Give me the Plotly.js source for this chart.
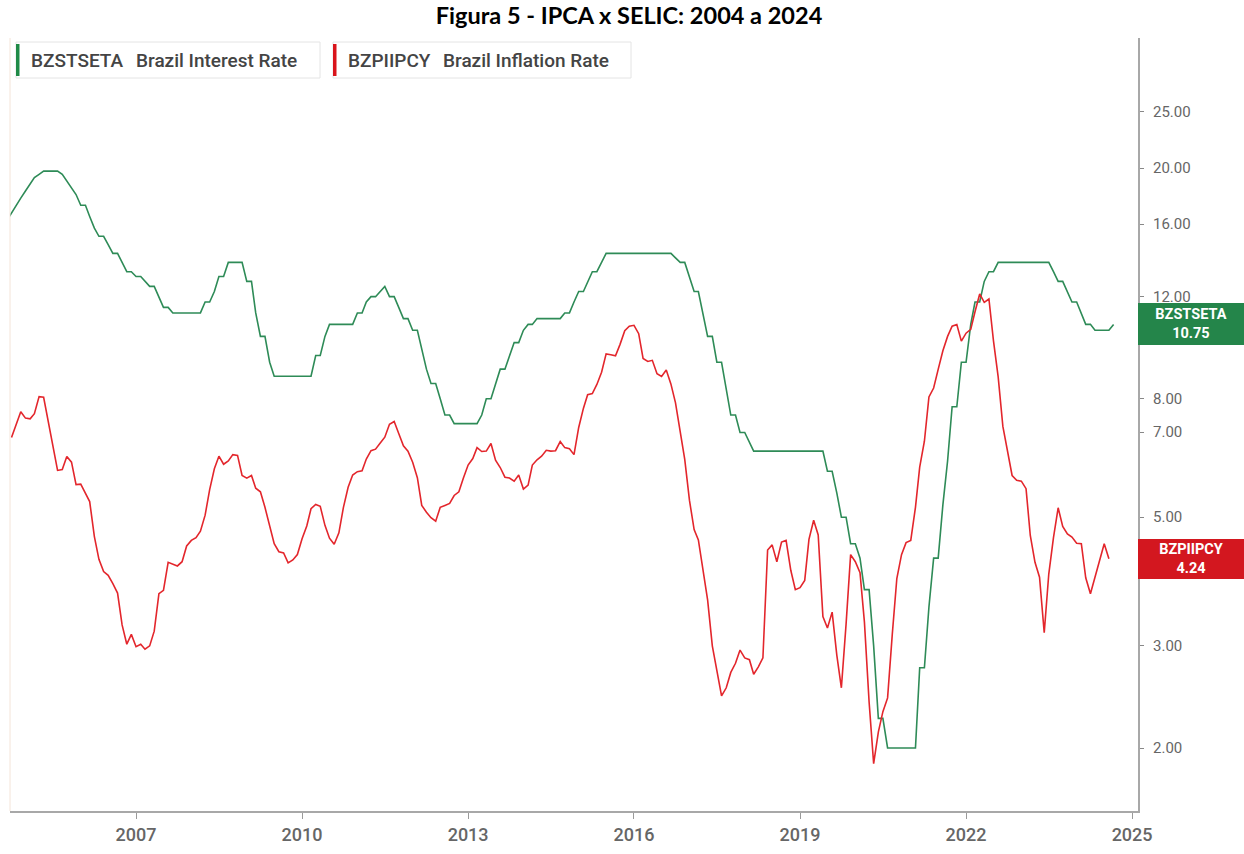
<!DOCTYPE html>
<html><head><meta charset="utf-8">
<script src="https://cdn.plot.ly/plotly-3.0.1.min.js"></script>
<style>html,body{margin:0;padding:0;background:#fff}#chart{width:1244px;height:854px}</style>
</head><body><div id="chart"></div>
<script>
// SELIC target (BZSTSETA), monthly, starting Sep 2004
const selicStart = [2004, 9];
const selicValues = [
  16.25,16.75,17.25,17.75,
  18.25,18.75,19.25,19.50,19.75,19.75,19.75,19.75,19.50,19.00,18.50,18.00,
  17.25,17.25,16.50,15.75,15.25,15.25,14.75,14.25,14.25,13.75,13.25,13.25,
  13.00,13.00,12.75,12.50,12.50,12.00,11.50,11.50,11.25,11.25,11.25,11.25,
  11.25,11.25,11.25,11.75,11.75,12.25,13.00,13.00,13.75,13.75,13.75,13.75,
  12.75,12.75,11.25,10.25,10.25,9.25,8.75,8.75,8.75,8.75,8.75,8.75,
  8.75,8.75,8.75,9.50,9.50,10.25,10.75,10.75,10.75,10.75,10.75,10.75,
  11.25,11.25,11.75,12.00,12.00,12.25,12.50,12.00,12.00,11.50,11.00,11.00,
  10.50,10.50,9.75,9.00,8.50,8.50,8.00,7.50,7.50,7.25,7.25,7.25,
  7.25,7.25,7.25,7.50,8.00,8.00,8.50,9.00,9.00,9.50,10.00,10.00,
  10.50,10.75,10.75,11.00,11.00,11.00,11.00,11.00,11.00,11.25,11.25,11.75,
  12.25,12.25,12.75,13.25,13.25,13.75,14.25,14.25,14.25,14.25,14.25,14.25,
  14.25,14.25,14.25,14.25,14.25,14.25,14.25,14.25,14.25,14.00,13.75,13.75,
  13.00,12.25,12.25,11.25,10.25,10.25,9.25,9.25,8.25,7.50,7.50,7.00,
  7.00,6.75,6.50,6.50,6.50,6.50,6.50,6.50,6.50,6.50,6.50,6.50,
  6.50,6.50,6.50,6.50,6.50,6.50,6.00,6.00,5.50,5.00,5.00,4.50,
  4.50,4.25,3.75,3.75,3.00,2.25,2.25,2.00,2.00,2.00,2.00,2.00,
  2.00,2.00,2.75,2.75,3.50,4.25,4.25,5.25,6.25,7.75,7.75,9.25,
  9.25,10.75,11.75,11.75,12.75,13.25,13.25,13.75,13.75,13.75,13.75,13.75,
  13.75,13.75,13.75,13.75,13.75,13.75,13.75,13.25,12.75,12.75,12.25,11.75,
  11.75,11.25,10.75,10.75,10.50,10.50,10.50,10.50,10.75
];
// IPCA 12-month inflation (BZPIIPCY), monthly, starting Oct 2004
const ipcaStart = [2004, 10];
const ipcaValues = [
  6.86,7.24,7.60,
  7.41,7.39,7.54,8.07,8.05,7.27,6.57,6.02,6.04,6.36,6.22,5.69,
  5.70,5.51,5.32,4.63,4.23,4.03,3.97,3.84,3.70,3.26,3.02,3.14,
  2.99,3.02,2.96,3.00,3.18,3.69,3.74,4.18,4.15,4.12,4.19,4.46,
  4.56,4.61,4.73,5.04,5.58,6.06,6.37,6.17,6.25,6.41,6.39,5.90,
  5.84,5.90,5.61,5.53,5.20,4.80,4.50,4.36,4.34,4.17,4.22,4.31,
  4.59,4.83,5.17,5.26,5.22,4.84,4.60,4.49,4.70,5.20,5.63,5.91,
  5.99,6.01,6.30,6.51,6.55,6.71,6.87,7.23,7.31,6.97,6.64,6.50,
  6.22,5.85,5.24,5.10,4.99,4.92,5.20,5.24,5.28,5.45,5.53,5.84,
  6.15,6.31,6.59,6.49,6.50,6.70,6.27,6.09,5.86,5.84,5.77,5.91,
  5.59,5.68,6.15,6.28,6.37,6.52,6.50,6.51,6.75,6.59,6.56,6.41,
  7.14,7.70,8.13,8.17,8.47,8.89,9.56,9.53,9.49,9.93,10.48,10.67,
  10.71,10.36,9.39,9.28,9.32,8.84,8.74,8.97,8.48,7.87,6.99,6.29,
  5.35,4.76,4.57,4.08,3.60,3.00,2.71,2.46,2.54,2.70,2.80,2.95,
  2.86,2.84,2.68,2.76,2.86,4.39,4.48,4.19,4.53,4.56,4.05,3.75,
  3.78,3.89,4.58,4.94,4.66,3.37,3.22,3.43,2.89,2.54,3.27,4.31,
  4.19,4.01,3.30,2.40,1.88,2.13,2.31,2.44,3.14,3.92,4.31,4.52,
  4.56,5.20,6.10,6.76,8.06,8.35,8.99,9.68,10.25,10.67,10.74,10.06,
  10.38,10.54,11.30,12.13,11.73,11.89,10.07,8.73,7.17,6.47,5.90,5.79,
  5.77,5.60,4.65,4.18,3.94,3.16,3.99,4.61,5.19,4.82,4.68,4.62,
  4.51,4.50,3.93,3.69,3.93,4.23,4.50,4.24
];
const yearTicks = [2007, 2010, 2013, 2016, 2019, 2022, 2025];
const rateTicks = [2, 3, 5, 7, 8, 12, 16, 20, 25];
const selicCode = 'BZSTSETA', selicName = 'Brazil Interest Rate';
const ipcaCode = 'BZPIIPCY', ipcaName = 'Brazil Inflation Rate';

function monthDates(start, n) {
  const out = [];
  let y = start[0], m = start[1];
  for (let i = 0; i < n; i++) {
    out.push(y + '-' + String(m).padStart(2, '0') + '-01');
    m++; if (m > 12) { m = 1; y++; }
  }
  return out;
}

const GREEN = '#2e8b57', RED = '#e3262c';
const traces = [
  {x: monthDates(selicStart, selicValues.length), y: selicValues, type: 'scatter', mode: 'lines',
   line: {color: GREEN, width: 1.6}, name: selicCode, hoverinfo: 'skip'},
  {x: monthDates(ipcaStart, ipcaValues.length), y: ipcaValues, type: 'scatter', mode: 'lines',
   line: {color: RED, width: 1.6}, name: ipcaCode, hoverinfo: 'skip'}
];

// pixel -> paper helpers (plot area: x 10..1138, y 38..811)
const L = 10, R = 1138, T = 38, B = 811;
const px = v => (v - L) / (R - L);
const py = v => (B - v) / (B - T);

const lastSelic = selicValues[selicValues.length - 1];
const lastIpca = ipcaValues[ipcaValues.length - 1];

const legendFont = {family: 'Roboto, Liberation Sans, sans-serif', size: 19, color: '#444', weight: 500};
const tickFontX = {family: 'Roboto, Liberation Sans, sans-serif', size: 18, color: '#666', weight: 500};
const tickFontY = {family: 'Roboto, Liberation Sans, sans-serif', size: 15, color: '#666'};
const badgeFont = {family: 'Roboto, Liberation Sans, sans-serif', size: 14.5, color: '#fff', weight: 'bold'};

// right-axis labels as annotations (so their offset from the axis can be set)
const yLabelAnnots = rateTicks.map(v => ({
  xref: 'paper', yref: 'y', x: 1, y: Math.log10(v), xanchor: 'left', yanchor: 'middle', xshift: 13,
  text: v.toFixed(2), showarrow: false, font: tickFontY
}));

const layout = {
  width: 1244, height: 854,
  margin: {l: L, r: 1244 - R, t: T, b: 854 - B, pad: 0},
  paper_bgcolor: '#fff', plot_bgcolor: '#fff',
  showlegend: false,
  title: {text: 'Figura 5 - IPCA x SELIC: 2004 a 2024', font: {family: 'Lato, Open Sans, sans-serif', size: 23.5, color: '#000', weight: 'bold'},
          xref: 'container', x: 629 / 1244, xanchor: 'center', yref: 'container', y: 1 - 16 / 854, yanchor: 'middle'},
  xaxis: {type: 'date', range: ['2004-09-21', '2025-02-09'],
          tickvals: yearTicks.map(y => y + '-01-01'), ticktext: yearTicks.map(String),
          showline: true, linecolor: '#a8a8a8', linewidth: 2, ticks: 'outside', ticklen: 6, tickwidth: 1, tickcolor: '#9a9a9a',
          tickfont: tickFontX,
          showgrid: false, zeroline: false, fixedrange: true},
  yaxis: {type: 'log', side: 'right', range: [Math.log10(2) - 63 / 580, Math.log10(2) + 710 / 580],
          tickvals: rateTicks, showticklabels: false,
          showline: true, linecolor: '#a8a8a8', linewidth: 2, ticks: 'outside', ticklen: 4, tickwidth: 1, tickcolor: '#888',
          showgrid: false, zeroline: false, fixedrange: true},
  shapes: [
    {type: 'line', xref: 'paper', yref: 'paper', x0: 0, x1: 0, y0: 0, y1: 1, line: {color: '#f4e4d8', width: 1}},
    {type: 'rect', xref: 'paper', yref: 'paper', x0: px(16), x1: px(320), y0: py(78), y1: py(42), line: {color: '#e4e4e4', width: 1}, fillcolor: '#fff'},
    {type: 'rect', xref: 'paper', yref: 'paper', x0: px(16), x1: px(19.5), y0: py(76), y1: py(44), line: {width: 0}, fillcolor: '#1f8a47'},
    {type: 'rect', xref: 'paper', yref: 'paper', x0: px(333), x1: px(631), y0: py(78), y1: py(42), line: {color: '#e4e4e4', width: 1}, fillcolor: '#fff'},
    {type: 'rect', xref: 'paper', yref: 'paper', x0: px(333), x1: px(336.5), y0: py(76), y1: py(44), line: {width: 0}, fillcolor: '#d9141b'}
  ],
  annotations: yLabelAnnots.concat([
    {xref: 'paper', yref: 'paper', x: px(29), y: py(60), xanchor: 'left', yanchor: 'middle', text: selicCode, showarrow: false, font: legendFont},
    {xref: 'paper', yref: 'paper', x: px(134), y: py(60), xanchor: 'left', yanchor: 'middle', text: selicName, showarrow: false, font: legendFont},
    {xref: 'paper', yref: 'paper', x: px(346), y: py(60), xanchor: 'left', yanchor: 'middle', text: ipcaCode, showarrow: false, font: legendFont},
    {xref: 'paper', yref: 'paper', x: px(441), y: py(60), xanchor: 'left', yanchor: 'middle', text: ipcaName, showarrow: false, font: legendFont},
    {xref: 'paper', yref: 'y', x: 1, y: Math.log10(lastSelic), xanchor: 'left', yanchor: 'middle', showarrow: false,
     text: selicCode + '<br>' + lastSelic.toFixed(2), bgcolor: '#24854a', borderpad: 2, borderwidth: 0,
     width: 102, height: 38, align: 'center', font: badgeFont},
    {xref: 'paper', yref: 'y', x: 1, y: Math.log10(lastIpca), xanchor: 'left', yanchor: 'middle', showarrow: false,
     text: ipcaCode + '<br>' + lastIpca.toFixed(2), bgcolor: '#d3171f', borderpad: 2, borderwidth: 0,
     width: 102, height: 36, align: 'center', font: badgeFont}
  ])
};
Plotly.newPlot('chart', traces, layout, {displayModeBar: false, staticPlot: true});
</script></body></html>
